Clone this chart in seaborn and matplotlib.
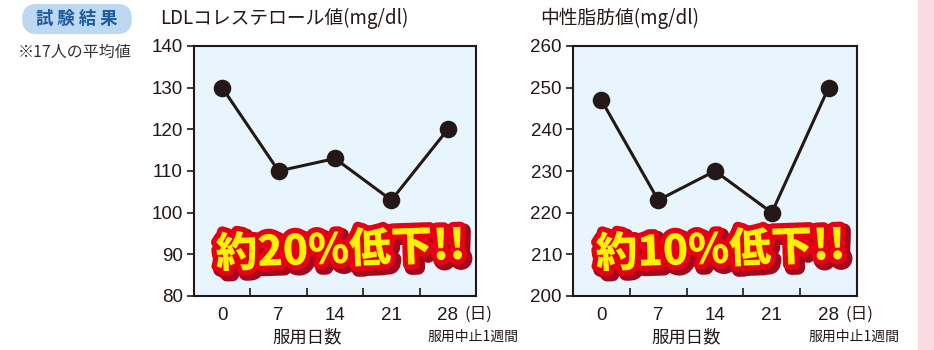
import matplotlib
matplotlib.use("Agg")
import matplotlib.pyplot as plt
import matplotlib.patheffects as pe
from matplotlib.patches import Rectangle
from matplotlib.transforms import blended_transform_factory
import pandas as pd
import seaborn as sns

# データ
days = ["0", "7", "14", "21", "28"]
ldl = [130, 110, 113, 103, 120]
tg = [247, 223, 230, 220, 250]
ldl_ticks = [80, 90, 100, 110, 120, 130, 140]
tg_ticks = [200, 210, 220, 230, 240, 250, 260]

sns.set_theme(style="ticks")
jp = ['Noto Sans CJK JP', 'DejaVu Sans']
num = ['Liberation Sans Narrow', 'Liberation Sans', 'DejaVu Sans']
plt.rcParams['font.family'] = jp

ink = "#231815"
bg = "#e8f5fd"

fig = plt.figure(figsize=(9.34, 3.5), dpi=100)
fig.patch.set_facecolor("white")

# 右端のピンク帯
fig.patches.append(Rectangle((918 / 934, 0), 16 / 934, 1, transform=fig.transFigure,
                             facecolor="#fadbe2", edgecolor="none", zorder=0))

# 「試験結果」ラベル
fig.text(77 / 934, 1 - 19 / 350, "  試 験 結 果  ", ha="center", va="center",
         fontsize=12.5, fontweight="bold", color="#1f5a9c", family=jp,
         bbox=dict(boxstyle="round,pad=0.35,rounding_size=0.85",
                   facecolor="#bcd9f1", edgecolor="none"))
fig.text(18 / 934, 1 - 52 / 350, "※17人の平均値", ha="left", va="center",
         fontsize=11.5, color="#333333", family=jp)

panels = [
    dict(left=194, right=476, vals=ldl, ticks=ldl_ticks,
         title="LDLコレステロール値(mg/dl)", title_x=160, badge="約20%低下!!"),
    dict(left=573, right=857, vals=tg, ticks=tg_ticks,
         title="中性脂肪値(mg/dl)", title_x=540, badge="約10%低下!!"),
]

for p in panels:
    ax = fig.add_axes([p["left"] / 934, 1 - 296 / 350,
                       (p["right"] - p["left"]) / 934, 250 / 350])
    ax.set_facecolor(bg)
    df = pd.DataFrame({"day": days, "val": p["vals"]})
    sns.pointplot(data=df, x="day", y="val", order=days, color=ink,
                  markers="o", markersize=11, linewidth=2.2, errorbar=None, ax=ax)
    ax.set_xlim(-0.5, 4.5)
    ax.set_ylim(p["ticks"][0], p["ticks"][-1])
    ax.set_yticks(p["ticks"])
    ax.set_xlabel("")
    ax.set_ylabel("")
    for s in ax.spines.values():
        s.set_color(ink)
        s.set_linewidth(1.5)
        s.set_visible(True)

    ax.set_xticks(range(len(days)))
    ax.set_xticklabels(days)
    ax.set_xticks([0.5, 1.5, 2.5, 3.5], minor=True)
    ax.tick_params(axis="x", which="major", length=0, pad=8, labelsize=13.5, colors=ink)
    ax.tick_params(axis="x", which="minor", direction="in", length=6, width=1.2, color=ink)
    ax.tick_params(axis="y", direction="out", length=5, width=1.2, pad=3,
                   labelsize=13.5, colors=ink)
    for lab in ax.get_xticklabels() + ax.get_yticklabels():
        lab.set_family(num)

    trans = blended_transform_factory(ax.transData, ax.transAxes)
    ax.text(4.3, -0.072, "(日)", transform=trans, ha="left", va="center",
            fontsize=12, color=ink, family=jp)
    ax.text(1.5, -0.165, "服用日数", transform=trans, ha="center", va="center",
            fontsize=12.5, color=ink, family=jp)
    ax.text(4.45, -0.165, "服用中止1週間", transform=trans, ha="center", va="center",
            fontsize=10, color=ink, family=jp, clip_on=False)

    fig.text(p["title_x"] / 934, 1 - 18 / 350, p["title"], ha="left", va="center",
             fontsize=13.5, color=ink, family=jp)

    # キャッチコピー
    t = ax.text(0.52, 0.18, p["badge"], transform=ax.transAxes, ha="center",
                va="center", fontsize=30, fontweight="heavy", color="#fff200",
                rotation=2, family=jp, zorder=5)
    t.set_path_effects([
        pe.Stroke(linewidth=10, foreground="#9e0b1e", offset=(2.5, -2.5)),
        pe.Stroke(linewidth=7.5, foreground="#e60012"),
        pe.Normal(),
    ])

fig.savefig("out.png", dpi=100)
